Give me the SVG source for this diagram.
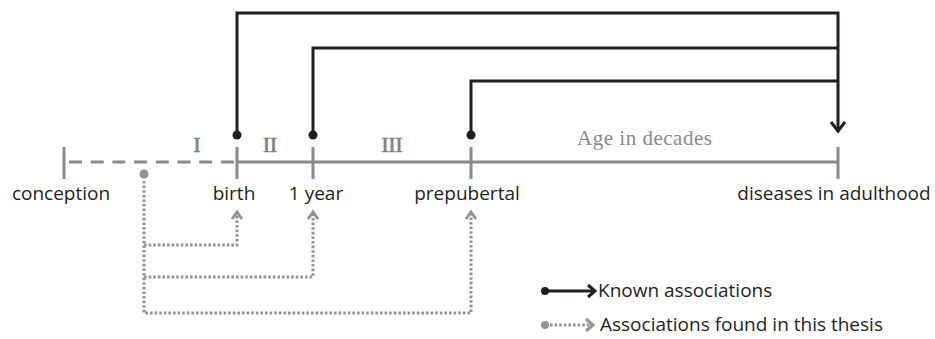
<svg xmlns="http://www.w3.org/2000/svg" width="935" height="339" viewBox="0 0 935 339">
<style>
.lbl{font-family:"Open Sans","Noto Sans","Liberation Sans",sans-serif;font-size:19px;fill:#231f20;text-anchor:middle}
.leg{font-family:"Open Sans","Noto Sans","Liberation Sans",sans-serif;font-size:19px;fill:#231f20}
.rom{font-family:"Liberation Serif","DejaVu Serif",serif;font-size:21px;fill:#808080;text-anchor:middle;stroke:#808080;stroke-width:0.7}
.age{font-family:"Liberation Serif","DejaVu Serif",serif;font-size:21px;fill:#8a8a8a}
.axis{stroke:#8a8a8a;stroke-width:3;fill:none}
.tick{stroke:#8a8a8a;stroke-width:3}
.known{stroke:#231f20;stroke-width:3;fill:none}
.found{stroke:#939393;stroke-width:3;fill:none;stroke-dasharray:2.6 2}
.head{stroke:#231f20;stroke-width:3;fill:none}
.ghead{stroke:#939393;stroke-width:3;fill:none}
</style>
<g id="timeline">
<path class="axis" d="M69 162H237" stroke-dasharray="13 8.7"/>
<path class="axis" d="M237 162H838"/>
<text class="age" x="577" y="145" textLength="135">Age in decades</text>
</g>
<g id="periods">
<text class="rom" x="197" y="152">I</text>
<text class="rom" x="270" y="152">II</text>
<text class="rom" x="392" y="152">III</text>
</g>
<g id="conception">
<line class="tick" x1="64" y1="147" x2="64" y2="179"/>
<text class="lbl" x="61" y="200">conception</text>
</g>
<g id="birth">
<line class="tick" x1="237" y1="147" x2="237" y2="179"/>
<text class="lbl" x="234" y="200">birth</text>
</g>
<g id="one-year">
<line class="tick" x1="313" y1="147" x2="313" y2="179"/>
<text class="lbl" x="316" y="200">1 year</text>
</g>
<g id="prepubertal">
<line class="tick" x1="471" y1="147" x2="471" y2="179"/>
<text class="lbl" x="467" y="200">prepubertal</text>
</g>
<g id="adulthood">
<line class="tick" x1="838" y1="147" x2="838" y2="179"/>
<text class="lbl" x="834" y="200">diseases in adulthood</text>
</g>
<g id="connectors">
<path class="known" d="M237 135V13H838V132"/>
<path class="known" d="M313 135V48H838"/>
<path class="known" d="M471 135V81H838"/>
<path class="head" d="M831 122L838 131L845 122"/>
<circle cx="237" cy="135" r="4.5" fill="#231f20"/>
<circle cx="313" cy="135" r="4.5" fill="#231f20"/>
<circle cx="471" cy="135" r="4.5" fill="#231f20"/>
<circle cx="144" cy="174" r="4.5" fill="#939393"/>
<path class="found" d="M144 181V313H471V214"/>
<path class="found" d="M144 245H237V214"/>
<path class="found" d="M144 277H313V214"/>
<path class="ghead" d="M232 219L237 212L242 219"/>
<path class="ghead" d="M308 219L313 212L318 219"/>
<path class="ghead" d="M466 219L471 212L476 219"/>
</g>
<g id="legend">
<circle cx="545" cy="291" r="4" fill="#231f20"/>
<path class="known" d="M545 291H593"/>
<path class="head" d="M588 285L595 291L588 297"/>
<text class="leg" x="598" y="297">Known associations</text>
<circle cx="545" cy="325" r="4" fill="#939393"/>
<path class="found" d="M550 325H592"/>
<path class="ghead" d="M586 319L593 325L586 331"/>
<text class="leg" x="600" y="331">Associations found in this thesis</text>
</g>
</svg>
